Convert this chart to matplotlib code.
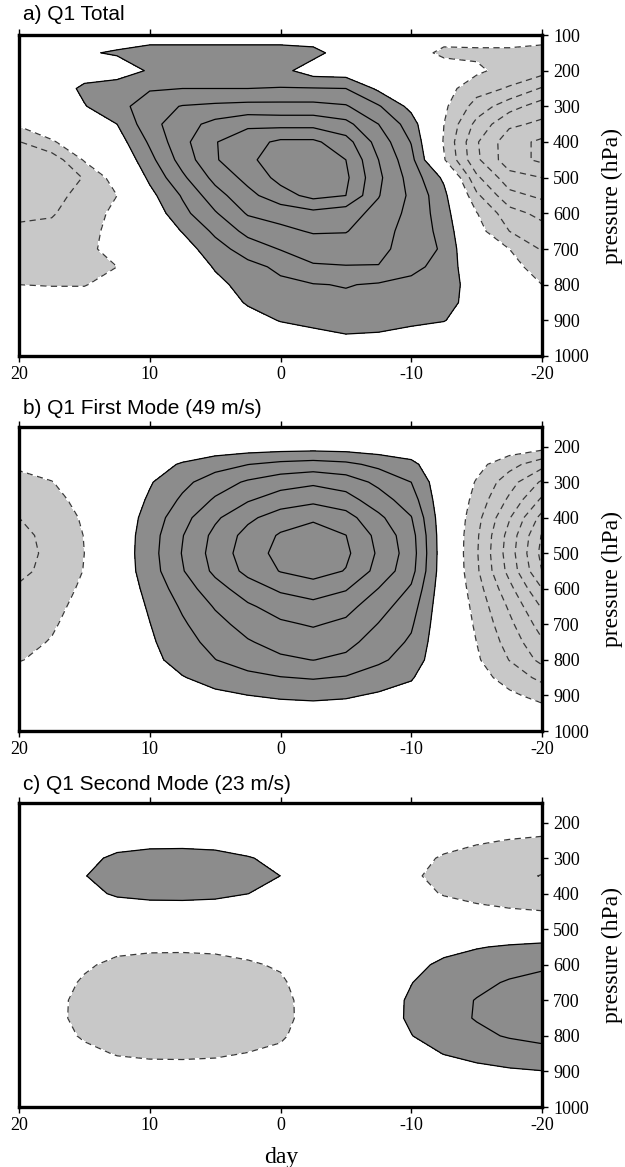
import numpy as np
import matplotlib
matplotlib.use("Agg")
import matplotlib.pyplot as plt

# ---------------- data ----------------
days = [20, 17.5, 15, 12.5, 10, 7.5, 5, 2.5, 0, -2.5, -5, -7.5, -10, -12.5, -15, -17.5, -20]
pressure = [100, 150, 200, 250, 300, 350, 400, 450, 500, 550, 600, 650, 700, 750, 800, 850, 900, 950, 1000]

# a) Q1 total, one row per pressure level (contour units), columns follow `days`
q1_p100 = [0.1, 0.2, 0.4, 0.5, 0.5, 0.5, 0.5, 0.5, 0.5, 0.4, 0.1, -0.2, -0.4, -0.6, -0.5, -0.5, -0.5]
q1_p150 = [0.2, 0.3, 0.9, 1.1, 1.4, 1.4, 1.4, 1.4, 1.4, 1.3, 0.5, -0.3, -0.6, -1.2, -1.2, -1.2, -1.4]
q1_p200 = [0.2, 0.3, 0.5, 0.5, 1.1, 1.5, 1.5, 1.5, 1.3, 0.5, 0.4, 0.2, -0.3, -0.5, -0.8, -1.4, -1.6]
q1_p250 = [0.1, 0.4, 1.2, 1.5, 1.9, 2.0, 2.0, 2.0, 2.05, 2.05, 2.0, 0.8, 0.2, -0.6, -1.6, -2.1, -3.1]
q1_p300 = [-0.3, 0.1, 0.95, 1.6, 2.6, 3.05, 3.2, 3.3, 3.3, 3.3, 3.1, 2.1, 0.7, -0.8, -2.4, -3.6, -4.5]
q1_p350 = [-0.85, -0.4, 0.2, 1.0, 2.65, 3.6, 4.3, 4.8, 4.7, 4.7, 4.3, 3.0, 1.5, -1.0, -3.3, -4.8, -5.2]
q1_p400 = [-2.05, -1.1, -0.4, 0.5, 2.15, 3.7, 4.95, 5.6, 6.2, 6.2, 5.4, 3.6, 1.95, -1.1, -3.9, -5.6, -6.2]
q1_p450 = [-2.6, -2.6, -0.9, 0.0, 1.7, 3.4, 4.9, 5.8, 6.5, 6.6, 6.0, 4.0, 2.3, -0.9, -3.8, -5.6, -6.2]
q1_p500 = [-2.8, -2.6, -1.95, -0.5, 1.2, 2.8, 4.3, 5.3, 6.3, 6.6, 6.2, 4.2, 2.6, 0.8, -2.8, -4.6, -5.0]
q1_p550 = [-2.6, -2.4, -1.6, -1.0, 0.7, 2.1, 3.6, 4.7, 5.6, 6.3, 6.0, 4.05, 2.8, 1.3, -1.8, -3.7, -4.2]
q1_p600 = [-2.2, -2.1, -1.4, -0.8, 0.3, 1.7, 2.9, 4.1, 4.4, 4.7, 4.4, 3.7, 2.7, 1.5, -0.95, -2.6, -3.3]
q1_p650 = [-1.8, -1.7, -1.3, -0.7, 0.1, 1.05, 2.2, 3.3, 3.75, 4.1, 4.05, 3.4, 2.6, 1.7, -0.6, -2.0, -2.6]
q1_p700 = [-1.5, -1.5, -1.2, -0.7, 0.0, 0.5, 1.6, 2.45, 3.05, 3.4, 3.5, 3.35, 2.4, 1.9, -0.4, -1.0, -2.1]
q1_p750 = [-1.3, -1.4, -1.2, -1.0, -0.2, 0.1, 1.1, 1.7, 2.2, 2.9, 2.95, 2.95, 2.3, 1.6, 0.2, -0.6, -1.5]
q1_p800 = [-1.0, -1.05, -1.05, -0.6, -0.2, -0.1, 0.7, 1.4, 1.8, 1.95, 2.05, 1.9, 1.7, 1.5, 0.5, -0.3, -1.0]
q1_p850 = [-0.6, -0.5, -0.5, -0.3, -0.1, 0.0, 0.4, 1.1, 1.5, 1.7, 1.8, 1.6, 1.5, 1.4, 0.5, -0.1, -0.6]
q1_p900 = [-0.3, -0.2, -0.2, -0.1, 0.0, 0.0, 0.2, 0.6, 1.05, 1.3, 1.5, 1.3, 1.3, 1.05, 0.3, 0.0, -0.4]
q1_p950 = [-0.1, 0.0, 0.0, 0.0, 0.0, 0.0, 0.1, 0.3, 0.4, 0.6, 0.85, 0.85, 0.4, 0.3, 0.1, 0.0, -0.2]
q1_p1000 = [0.0] * 17

# b) first mode: time coefficient x vertical structure
mode1_coef = [-2.3, -1.8, -1.0, 0.3, 1.6, 3.05, 4.4, 5.5, 6.3, 6.7, 6.2, 4.85, 3.5, 0.33, -1.9, -4.5, -7.3]
mode1_profile = [0.0, 0.0, 0.08, 0.36, 0.57, 0.71, 0.87, 0.97, 1.0, 0.96, 0.82, 0.70, 0.61, 0.53, 0.45, 0.31, 0.18, 0.08, 0.0]

# c) second mode: time coefficient x vertical structure
mode2_coef = [0.3, 0.75, 1.3, 1.75, 1.9, 1.92, 1.85, 1.62, 1.33, 0.6, -0.1, -0.6, -1.15, -1.7, -2.1, -2.45, -2.7]
mode2_profile = [0.0, 0.05, 0.2, 0.42, 0.64, 0.75, 0.62, 0.36, -0.1, -0.45, -0.68, -0.85, -0.97, -0.98, -0.85, -0.6, -0.36, -0.15, 0.0]

titles = ["a) Q1 Total", "b) Q1 First Mode (49 m/s)", "c) Q1 Second Mode (23 m/s)"]
xticks = [20, 10, 0, -10, -20]

# ---------------- build fields ----------------
q1_total = np.array([q1_p100, q1_p150, q1_p200, q1_p250, q1_p300, q1_p350, q1_p400,
                     q1_p450, q1_p500, q1_p550, q1_p600, q1_p650, q1_p700, q1_p750,
                     q1_p800, q1_p850, q1_p900, q1_p950, q1_p1000])
q1_mode1 = np.outer(mode1_profile, mode1_coef)
q1_mode2 = np.outer(mode2_profile, mode2_coef)

DARK = "#8c8c8c"
LIGHT = "#c8c8c8"
SERIF = "Liberation Serif"
SANS = "Liberation Sans"

W, H = 625, 1167
fig = plt.figure(figsize=(W / 100, H / 100), dpi=100)

panels = [
    (q1_total, 35, 356, 100, [100, 200, 300, 400, 500, 600, 700, 800, 900, 1000], 15),
    (q1_mode1, 427, 731, 145, [200, 300, 400, 500, 600, 700, 800, 900, 1000], 408),
    (q1_mode2, 803, 1107, 145, [200, 300, 400, 500, 600, 700, 800, 900, 1000], 784),
]

X, Y = np.meshgrid(days, pressure)
for i, (Z, top, bot, ptop, yt, ty) in enumerate(panels):
    ax = fig.add_axes([19 / W, 1 - bot / H, 523 / W, (bot - top) / H])
    ax.contourf(X, Y, Z, levels=[-50, -1, 1, 50], colors=[LIGHT, "white", DARK])
    ax.contour(X, Y, Z, levels=np.arange(1, 9), colors="black", linewidths=0.9,
               linestyles="solid")
    neg = ax.contour(X, Y, Z, levels=-np.arange(9, 0, -1), colors="#383838",
                     linewidths=0.9)
    neg.set_linestyle((0, (5.0, 3.5)))
    ax.set_xlim(20, -20)
    ax.set_ylim(1000, ptop)
    ax.set_xticks(xticks)
    ax.set_xticklabels([str(v) for v in xticks], family=SERIF, fontsize=13)
    ax.set_yticks(yt)
    ax.set_yticklabels([str(v) for v in yt], family=SERIF, fontsize=13)
    ax.tick_params(axis="x", which="both", direction="out", top=True, bottom=True,
                   labeltop=False, labelbottom=True, length=4, width=1.0, pad=3)
    ax.tick_params(axis="y", which="both", direction="out", left=False, right=True,
                   labelleft=False, labelright=True, length=4, width=1.0, pad=4)
    for s in ax.spines.values():
        s.set_linewidth(2.4)
    fig.text(23 / W, 1 - ty / H, titles[i], family=SANS, fontsize=15,
             ha="left", va="center")
    fig.text(612 / W, 1 - (top + bot) / 2 / H, "pressure (hPa)", family=SERIF,
             fontsize=17, rotation=90, ha="center", va="center")

fig.text(281 / W, 1 - 1157 / H, "day", family=SERIF, fontsize=17, ha="center",
         va="center")

fig.savefig("out.png", dpi=100)
